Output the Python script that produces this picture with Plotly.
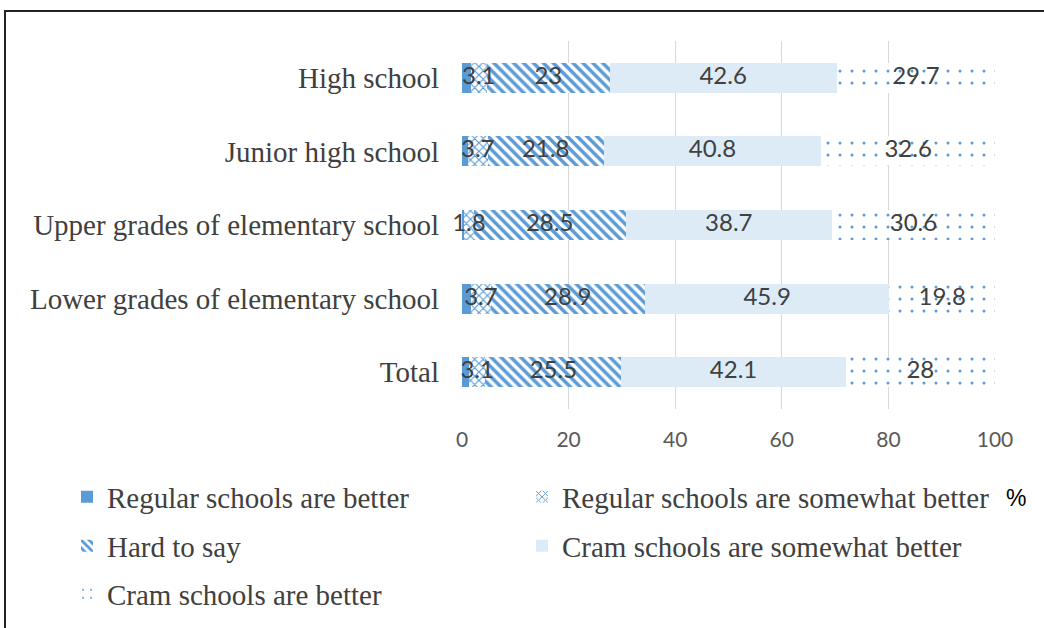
import plotly.graph_objects as go

categories = ["Total", "Lower grades of elementary school", "Upper grades of elementary school",
              "Junior high school", "High school"]
series_names = ["Regular schools are better", "Regular schools are somewhat better", "Hard to say",
                "Cram schools are somewhat better", "Cram schools are better"]
regular_better = [1.3, 1.7, 0.4, 1.1, 1.6]
regular_somewhat = [3.1, 3.7, 1.8, 3.7, 3.1]
hard_to_say = [25.5, 28.9, 28.5, 21.8, 23]
cram_somewhat = [42.1, 45.9, 38.7, 40.8, 42.6]
cram_better = [28, 19.8, 30.6, 32.6, 29.7]
x_ticks = [0, 20, 40, 60, 80, 100]

BLUE = "#5B9BD5"
LIGHT = "#DDEBF7"

styles = [
    dict(color=BLUE),
    dict(color="white", pattern=dict(shape="x", fgcolor=BLUE, bgcolor="white", size=6, solidity=0.35, fillmode="replace")),
    dict(color="white", pattern=dict(shape="\\", fgcolor=BLUE, bgcolor="white", size=7, solidity=0.5, fillmode="replace")),
    dict(color=LIGHT),
    dict(color="white", pattern=dict(shape=".", fgcolor=BLUE, bgcolor="white", size=12, solidity=0.05, fillmode="replace")),
]
values = [regular_better, regular_somewhat, hard_to_say, cram_somewhat, cram_better]
show_text = [False, True, True, True, True]
legend_ids = ["legend", "legend2", "legend3", "legend4", "legend5"]

fig = go.Figure()
for name, vals, st, lg in zip(series_names, values, styles, legend_ids):
    fig.add_trace(go.Bar(
        y=categories, x=vals, name=name, orientation="h",
        marker=dict(line=dict(width=0), **st),
        legend=lg, hoverinfo="x+name",
    ))

# data labels drawn on top of all bars
cum = [0.0] * len(categories)
for vals, st_txt in zip(values, show_text):
    mids = [c + v / 2 for c, v in zip(cum, vals)]
    if st_txt:
        fig.add_trace(go.Scatter(
            x=mids, y=categories, mode="text", text=[f"{v:g}" for v in vals],
            textposition="middle center", showlegend=False, hoverinfo="skip",
            textfont=dict(family="Lato, Open Sans, sans-serif", size=24, color="#404040"),
            cliponaxis=False,
        ))
    cum = [c + v for c, v in zip(cum, vals)]

leg_font = dict(family="Liberation Serif, Times New Roman, serif", size=29, color="#404040")
leg_common = dict(orientation="v", xanchor="left", yanchor="middle", font=leg_font,
                  bgcolor="rgba(0,0,0,0)")
col1_x = (67 - 462) / 533
col2_x = (522 - 462) / 533
row_y = [(409 - 497) / 368, (409 - 546) / 368, (409 - 594) / 368]

fig.update_layout(
    barmode="stack", bargap=0.59,
    width=1044, height=628,
    margin=dict(l=462, r=49, t=41, b=219, autoexpand=False),
    paper_bgcolor="white", plot_bgcolor="white",
    xaxis=dict(range=[0, 100], tickvals=x_ticks, showgrid=True, gridcolor="#D9D9D9", gridwidth=1,
               zeroline=False, showline=False, ticks="",
               tickfont=dict(family="Lato, Open Sans, sans-serif", size=21, color="#595959"),
               ticklabelstandoff=16),
    yaxis=dict(categoryorder="array", categoryarray=categories, showgrid=False, zeroline=False,
               showline=False, ticks="",
               tickfont=dict(family="Liberation Serif, Times New Roman, serif", size=29, color="#404040"),
               ticklabelstandoff=22),
    legend=dict(x=col1_x, y=row_y[0], **leg_common),
    legend2=dict(x=col2_x, y=row_y[0], **leg_common),
    legend3=dict(x=col1_x, y=row_y[1], **leg_common),
    legend4=dict(x=col2_x, y=row_y[1], **leg_common),
    legend5=dict(x=col1_x, y=row_y[2], **leg_common),
    showlegend=True,
    annotations=[dict(text="%", xref="paper", yref="paper", x=(1004 - 462) / 533, y=(409 - 498) / 368,
                      showarrow=False, xanchor="left", yanchor="middle",
                      font=dict(family="Liberation Sans, Arial, sans-serif", size=23, color="black"))],
    shapes=[
        dict(type="line", xref="paper", yref="paper", x0=(4 - 462) / 533, x1=(1050 - 462) / 533,
             y0=(409 - 11) / 368, y1=(409 - 11) / 368, line=dict(color="#222222", width=2)),
        dict(type="line", xref="paper", yref="paper", x0=(5 - 462) / 533, x1=(5 - 462) / 533,
             y0=(409 - 10) / 368, y1=(409 - 640) / 368, line=dict(color="#222222", width=2)),
    ],
)

fig.write_html("out.html")
